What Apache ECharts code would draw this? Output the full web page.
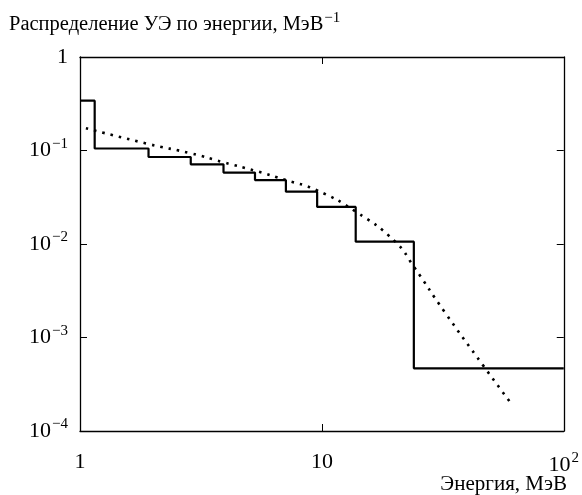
<!DOCTYPE html>
<html lang="ru">
<head>
  <meta charset="UTF-8">
  <title>Распределение УЭ по энергии</title>
  <script src="https://cdn.jsdelivr.net/npm/echarts@6/dist/echarts.min.js"></script>
  <style>
    html, body { margin: 0; padding: 0; background: #fff; }
    #main { width: 582px; height: 495px; }
  </style>
</head>
<body>
<div id="main"></div>
<script>
  // гистограмма: левые края бинов и значения
  var binEdges = [1, 1.15, 1.92, 2.87, 3.92, 5.29, 7.1, 9.56, 13.8, 24.0, 100];
  var binValues = [0.341, 0.105, 0.0852, 0.0711, 0.058, 0.0483, 0.0363, 0.0249, 0.0106, 0.000468];

  // пунктирная кривая
  var fitX = [1.058, 1.915, 2.87, 3.92, 5.29, 7.1, 9.48, 13.8, 20.1, 24.0, 32.1, 46.8, 61.5];
  var fitY = [0.173, 0.1175, 0.0933, 0.0748, 0.0608, 0.0483, 0.0378, 0.0222, 0.0106, 0.00571, 0.00189, 0.000488, 0.000187];

  var xTicks = [1, 10, 100];
  var xTickLabels = ['1', '10', '10{sup|2}'];
  var yTicks = [0.0001, 0.001, 0.01, 0.1, 1];
  var yTickLabels = ['10{sup|−4}', '10{sup|−3}', '10{sup|−2}', '10{sup|−1}', '1'];

  var font = '"Liberation Serif", "DejaVu Serif", serif';
  var rich = {
    sup: { fontSize: 15, fontFamily: font, color: '#000', padding: [0, 0, 13, 1] }
  };

  function pick(ticks, labels) {
    return function (v) {
      for (var i = 0; i < ticks.length; i++) {
        if (Math.abs(Math.log10(v) - Math.log10(ticks[i])) < 1e-6) return labels[i];
      }
      return '';
    };
  }

  var stepData = [];
  for (var i = 0; i < binValues.length; i++) {
    stepData.push([binEdges[i], binValues[i]]);
  }
  stepData.push([binEdges[binEdges.length - 1], binValues[binValues.length - 1]]);

  var fitData = fitX.map(function (x, i) { return [x, fitY[i]]; });

  var axisCommon = {
    type: 'log',
    logBase: 10,
    axisLine: { show: true, lineStyle: { color: '#000', width: 1.3 } },
    axisTick: { show: true, inside: true, length: 7, lineStyle: { color: '#000', width: 1 } },
    minorTick: { show: false },
    splitLine: { show: false }
  };

  var chart = echarts.init(document.getElementById('main'));
  chart.setOption({
    animation: false,
    backgroundColor: '#fff',
    title: [{
      text: 'Распределение УЭ по энергии, МэВ{sup|−1}',
      left: 4,
      top: 6,
      textStyle: { fontFamily: font, fontSize: 20.5, fontWeight: 'normal', color: '#000', rich: rich }
    }, {
      text: 'Энергия, МэВ',
      right: 10,
      top: 469,
      textStyle: { fontFamily: font, fontSize: 21, fontWeight: 'normal', color: '#000' }
    }],
    grid: { left: 80, right: 11, top: 57, bottom: 64 },
    xAxis: [
      Object.assign({}, axisCommon, {
        position: 'bottom', min: 1, max: 100, splitNumber: 2,
        axisLabel: { formatter: pick(xTicks, xTickLabels), margin: 20, fontFamily: font, fontSize: 22, color: '#000', rich: rich }
      }),
      Object.assign({}, axisCommon, {
        position: 'top', min: 1, max: 100, splitNumber: 2,
        axisLabel: { show: false }
      })
    ],
    yAxis: [
      Object.assign({}, axisCommon, {
        position: 'left', min: 0.0001, max: 1, splitNumber: 4,
        axisLabel: { formatter: pick(yTicks, yTickLabels), margin: 12, fontFamily: font, fontSize: 22, color: '#000', rich: rich }
      }),
      Object.assign({}, axisCommon, {
        position: 'right', min: 0.0001, max: 1, splitNumber: 4,
        axisLabel: { show: false }
      })
    ],
    series: [{
      type: 'line',
      step: 'end',
      data: stepData,
      symbol: 'none',
      lineStyle: { color: '#000', width: 2.2 }
    }, {
      type: 'line',
      data: fitData,
      smooth: true,
      symbol: 'none',
      lineStyle: { color: '#000', width: 2.6, type: [2.5, 6], cap: 'butt' }
    }]
  });
</script>
</body>
</html>
